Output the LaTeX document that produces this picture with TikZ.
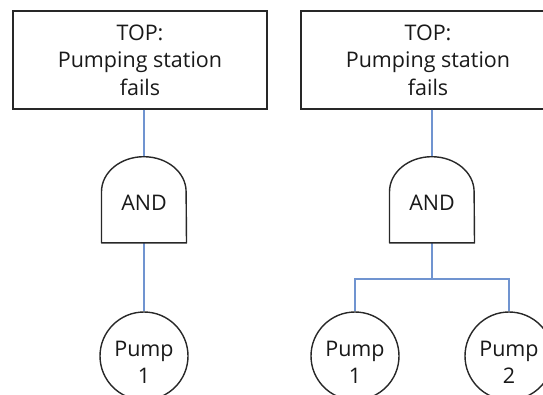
\documentclass[tikz,border=0pt]{standalone}
\usepackage{fontspec}
\setmainfont{Open Sans}
\definecolor{linkblue}{RGB}{112,148,208}
\definecolor{edgegray}{RGB}{40,40,40}
\begin{document}
\begin{tikzpicture}[x=1bp,y=1bp,
  every node/.style={font=\fontsize{21.5bp}{27.5bp}\selectfont, text=black!90},
  eventbox/.style={draw=edgegray, line width=1.4bp, rectangle,
    minimum width=254bp, minimum height=98bp, align=center, inner sep=0pt},
  gatebody/.style={minimum width=84.6bp, minimum height=86bp, inner sep=0pt},
  gateoutline/.style={draw=edgegray, line width=1.4bp, line join=round},
  basicevent/.style={draw=edgegray, line width=1.4bp, circle,
    minimum size=88bp, inner sep=0pt},
  eventtext/.style={align=center, anchor=base},
  link/.style={draw=linkblue, line width=1.2bp}
]
\useasboundingbox (0,0) rectangle (543,394);
\clip (0,0) rectangle (543,394);
\fill[white] (0,0) rectangle (543,394);

% ---- single pump tree ----
\node[eventbox] (topA) at (140,334) {TOP:\\Pumping station\\fails};
\node[gatebody] (andA) at (144,194.3) {};
\node (andAt) at (144,184) [anchor=base] {AND};
\node[basicevent] (pA1) at (144,38) {};
\node[eventtext] (pA1t) at (144,10.5) {Pump\\1};

% ---- two pump tree ----
\node[eventbox] (topB) at (428,334) {TOP:\\Pumping station\\fails};
\node[gatebody] (andB) at (432,194.3) {};
\node (andBt) at (432,184) [anchor=base] {AND};
\node[basicevent] (pB1) at (355,38) {};
\node[basicevent] (pB2) at (509,38) {};
\node[eventtext] (pB1t) at (355,10.5) {Pump\\1};
\node[eventtext] (pB2t) at (509,10.5) {Pump\\2};
\coordinate (busB) at (432,115);

% connectors
\path[link] (topA.south -| andA.north) -- (andA.north);
\path[link] (andA.south) -- (pA1.north);
\path[link] (topB.south -| andB.north) -- (andB.north);
\path[link] (andB.south) -- (busB);
\path[link] (pB1.north) |- (busB) -| (pB2.north);

% AND gate outlines
\foreach \g in {andA,andB}{
  \draw[gateoutline] (\g.south west) -- ([yshift=8bp]\g.west)
    arc[start angle=180, end angle=0, x radius=42.3bp, y radius=35bp]
    -- (\g.south east) -- cycle;
}
\end{tikzpicture}
\end{document}
